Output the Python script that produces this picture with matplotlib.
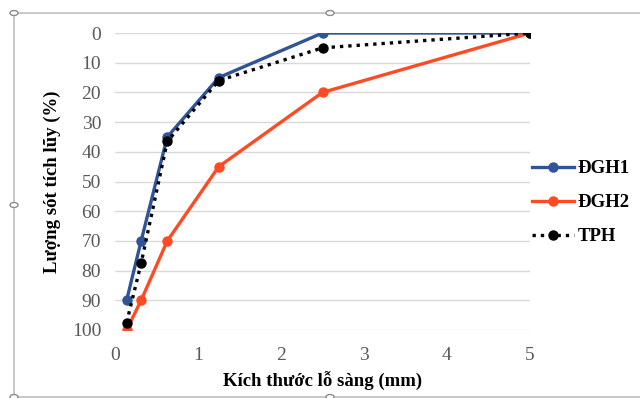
import matplotlib
matplotlib.use("Agg")
import matplotlib.pyplot as plt
from matplotlib.patches import Rectangle, Circle

sieve = [0.14, 0.315, 0.63, 1.25, 2.5, 5]
dgh1 = [90, 70, 35, 15, 0, 0]
dgh2 = [100, 90, 70, 45, 20, 0]
tph = [97.5, 77.5, 36.5, 16, 5, 0]

BLUE, RED, GREY = "#2F5597", "#FF4B24", "#595959"

plt.rcParams["font.family"] = ["Liberation Serif", "DejaVu Serif"]

fig = plt.figure(figsize=(6.4, 3.98), dpi=100)
ax = fig.add_axes([115 / 640, 1 - 330 / 398, 415 / 640, 297 / 398])

ax.plot(sieve, dgh1, color=BLUE, lw=2.4, marker="o", ms=6.5, label="ĐGH1", zorder=3)
ax.plot(sieve, dgh2, color=RED, lw=2.4, marker="o", ms=6.5, label="ĐGH2", zorder=3)
ax.plot(sieve, tph, color="black", lw=2.4, ls=(0, (1, 1.5)), marker="o", ms=6.5,
        label="TPH", zorder=4)

ax.set_xlim(0, 5)
ax.set_ylim(100, 0)
ax.set_yticks(range(0, 101, 10))
ax.set_xticks(range(0, 6))
ax.grid(axis="y", color="#D9D9D9", lw=1)
ax.set_axisbelow(True)
for s in ax.spines.values():
    s.set_visible(False)
ax.tick_params(length=0, labelsize=14, colors=GREY, pad=12)
ax.tick_params(axis="y", pad=10)

ax.set_xlabel("Kích thước lỗ sàng (mm)", fontsize=13.5, fontweight="bold", labelpad=6)
ax.set_ylabel("Lượng sót tích lũy (%)", fontsize=13.5, fontweight="bold", labelpad=8)

ax.legend(loc="center left", bbox_to_anchor=(0.965, 0.428), frameon=False,
          prop={"size": 13.5, "weight": "bold"}, handlelength=2.2,
          labelspacing=0.9, handletextpad=0.2)

# selection frame
fig.patches.append(Rectangle((14 / 640, 1 / 398), 640, 384 / 398, transform=fig.transFigure,
                             fill=False, ec="#BFBFBF", lw=1.2))
for hx, hy in [(14, 13), (330, 13), (14, 205), (14, 397), (330, 397)]:
    fig.patches.append(Circle((hx / 640, 1 - hy / 398), 4 / 640, transform=fig.transFigure,
                              fc="white", ec="#8C8C8C", lw=1))

fig.savefig("out.png", dpi=100)
